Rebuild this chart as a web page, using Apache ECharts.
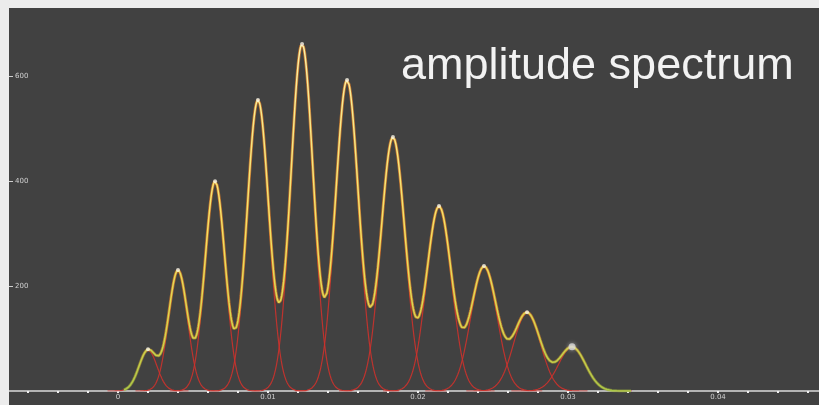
<!DOCTYPE html>
<html>
<head>
<meta charset="utf-8">
<script src="https://cdn.jsdelivr.net/npm/echarts@6/dist/echarts.min.js"></script>
<style>
  html, body { margin: 0; padding: 0; background: #ececec; }
  #chart { position: absolute; left: 9px; top: 8px; width: 810px; height: 397px; }
</style>
</head>
<body>
<div id="chart"></div>
<script>
// Spectral lines: centre frequency, peak amplitude and Gaussian width of each line
const peakCenters = [0.0020, 0.0040, 0.00647, 0.00933, 0.01227, 0.01527, 0.01833, 0.0214, 0.0244, 0.02727, 0.03027];
const peakHeights = [78, 230, 400, 555, 662, 593, 484, 352, 237, 149, 84];
const peakWidths  = [0.00060, 0.00063, 0.00067, 0.00073, 0.00075, 0.00077, 0.00080, 0.00083, 0.00087, 0.00090, 0.00090];

// Axis labels
const xLabelValues = [0, 0.01, 0.02, 0.03, 0.04];
const yLabelValues = [200, 400, 600];
const xTickStep = 0.002;
const xRange = [-0.007267, 0.046733];
const yRange = [0, 731];

const titleText = 'amplitude spectrum';

function line(i, f) {
  const d = (f - peakCenters[i]) / peakWidths[i];
  return peakHeights[i] * Math.exp(-0.5 * d * d);
}
function total(f) {
  let s = 0;
  for (let i = 0; i < peakCenters.length; i++) s += line(i, f);
  return s;
}

const step = 0.00004;
const series = [];

// individual line profiles
peakCenters.forEach((c, i) => {
  const pts = [];
  const w = peakWidths[i] * 4.5;
  for (let f = c - w; f <= c + w + 1e-12; f += step) pts.push([f, line(i, f)]);
  series.push({
    type: 'line', data: pts, showSymbol: false, silent: true, z: 2,
    lineStyle: { color: 'rgba(204,50,44,0.9)', width: 1.2 }
  });
});

// summed spectrum: orange rim under a pale yellow core that turns green near the baseline
const sumPts = [];
for (let f = 0.0004; f <= 0.0342; f += step) sumPts.push([f, total(f)]);
series.push({
  type: 'line', data: sumPts, showSymbol: false, silent: true, z: 3,
  lineStyle: {
    width: 3,
    color: new echarts.graphic.LinearGradient(0, 0, 0, 1, [
      { offset: 0, color: 'rgba(222,128,40,0.8)' },
      { offset: 0.8, color: 'rgba(222,128,40,0.75)' },
      { offset: 1, color: 'rgba(150,180,60,0.6)' }
    ])
  }
});
series.push({
  type: 'line', data: sumPts, showSymbol: false, silent: true, z: 4,
  lineStyle: {
    width: 1.5,
    color: new echarts.graphic.LinearGradient(0, 0, 0, 1, [
      { offset: 0, color: '#f8f0a8' },
      { offset: 0.55, color: '#f2e060' },
      { offset: 0.85, color: '#d2d44a' },
      { offset: 1, color: '#a8c848' }
    ])
  }
});

// peak markers
const marks = peakCenters.map((c, i) => ({
  value: [c, total(c)],
  symbolSize: i === peakCenters.length - 1 ? 7 : 4,
  itemStyle: i === peakCenters.length - 1
    ? { color: '#d8d8d8', shadowColor: 'rgba(255,255,255,0.6)', shadowBlur: 4 }
    : { color: '#f6f3e6' }
}));
series.push({ type: 'scatter', data: marks, z: 5, silent: true });

const xTicks = [];
for (let v = Math.ceil(xRange[0] / xTickStep) * xTickStep; v <= xRange[1]; v += xTickStep) xTicks.push(+v.toFixed(4));

const chart = echarts.init(document.getElementById('chart'));
chart.setOption({
  backgroundColor: '#414141',
  animation: false,
  title: {
    text: titleText, left: 387, top: 31,
    textStyle: { color: '#f2f2f2', fontSize: 45, fontWeight: 'normal', fontFamily: 'Liberation Sans, Arial, sans-serif' }
  },
  grid: { left: 0, right: 0, top: 0, bottom: 14, containLabel: false },
  xAxis: {
    type: 'value', min: xRange[0], max: xRange[1],
    axisLine: { show: true, onZero: false, lineStyle: { color: '#b4b4b4', width: 2 } },
    axisTick: { show: true, customValues: xTicks, length: 2, lineStyle: { color: '#f0f0f0', width: 2 } },
    axisLabel: {
      customValues: xLabelValues, color: '#d0d0d0', fontSize: 7, margin: 3,
      fontFamily: 'DejaVu Sans, sans-serif',
      formatter: v => (v === 0 ? '0' : v.toFixed(2))
    },
    splitLine: { show: false }
  },
  yAxis: {
    type: 'value', min: yRange[0], max: yRange[1],
    axisLine: { show: false, onZero: false },
    axisTick: { show: true, inside: true, customValues: yLabelValues, length: 4, lineStyle: { color: '#d0d0d0', width: 1 } },
    axisLabel: {
      inside: true, customValues: yLabelValues, color: '#d0d0d0', fontSize: 7, margin: 6,
      fontFamily: 'DejaVu Sans, sans-serif'
    },
    splitLine: { show: false }
  },
  series: series
});
</script>
</body>
</html>
